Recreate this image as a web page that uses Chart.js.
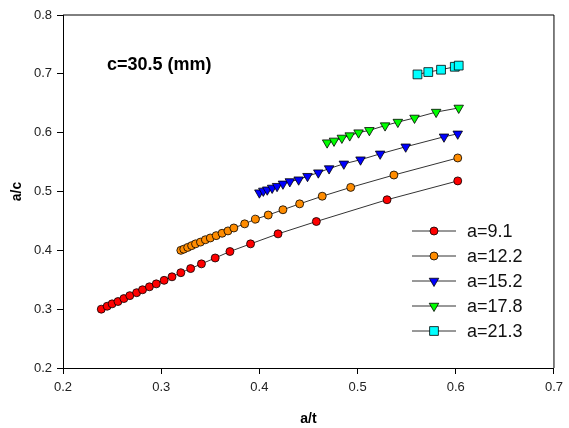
<!DOCTYPE html>
<html lang="en">
<head>
<meta charset="UTF-8">
<title>a/c vs a/t</title>
<script src="https://cdn.jsdelivr.net/npm/chart.js"></script>
<style>
  body { margin: 0; background: #fff; }
  .wrap { width: 569px; height: 428px; }
</style>
</head>
<body>
<div class="wrap"><canvas id="chart" width="569" height="428"></canvas></div>
<script>
// series names
const seriesNames = ['a=9.1', 'a=12.2', 'a=15.2', 'a=17.8', 'a=21.3'];

// a=9.1
const at91 = [0.239, 0.245, 0.250, 0.256, 0.262, 0.268, 0.275, 0.281, 0.288, 0.295, 0.303, 0.311, 0.320, 0.330, 0.341, 0.355, 0.370, 0.391, 0.419, 0.458, 0.530, 0.602];
const ac91 = [0.300, 0.305, 0.309, 0.313, 0.318, 0.323, 0.328, 0.333, 0.338, 0.343, 0.349, 0.355, 0.362, 0.369, 0.377, 0.387, 0.398, 0.411, 0.428, 0.449, 0.486, 0.518];

// a=12.2
const at122 = [0.320, 0.323, 0.327, 0.331, 0.335, 0.340, 0.345, 0.350, 0.356, 0.362, 0.368, 0.374, 0.385, 0.396, 0.409, 0.424, 0.441, 0.464, 0.493, 0.537, 0.602];
const ac122 = [0.400, 0.402, 0.405, 0.408, 0.411, 0.414, 0.418, 0.421, 0.425, 0.429, 0.433, 0.438, 0.445, 0.453, 0.460, 0.469, 0.479, 0.492, 0.507, 0.528, 0.557];

// a=15.2
const at152 = [0.400, 0.404, 0.408, 0.413, 0.418, 0.424, 0.431, 0.440, 0.449, 0.460, 0.471, 0.486, 0.503, 0.523, 0.549, 0.588, 0.602];
const ac152 = [0.498, 0.501, 0.503, 0.506, 0.509, 0.513, 0.517, 0.520, 0.526, 0.532, 0.539, 0.547, 0.554, 0.564, 0.576, 0.593, 0.598];

// a=17.8
const at178 = [0.469, 0.476, 0.484, 0.492, 0.501, 0.512, 0.528, 0.541, 0.558, 0.580, 0.603];
const ac178 = [0.583, 0.586, 0.591, 0.595, 0.600, 0.604, 0.612, 0.618, 0.625, 0.635, 0.642];

// a=21.3
const at213 = [0.561, 0.572, 0.585, 0.599, 0.603];
const ac213 = [0.699, 0.703, 0.707, 0.712, 0.714];

// axis ticks
const xTicks = [0.2, 0.3, 0.4, 0.5, 0.6, 0.7];
const yTicks = [0.2, 0.3, 0.4, 0.5, 0.6, 0.7, 0.8];

const FONT = "'Liberation Sans', Arial, sans-serif";

function toPoints(xs, ys) {
    return xs.map((x, i) => ({ x: x, y: ys[i] }));
}

const styles = [
    { color: '#ff0000', pointStyle: 'circle', radius: 4, rotation: 0 },
    { color: '#ff8c00', pointStyle: 'circle', radius: 4, rotation: 0 },
    { color: '#0000ff', pointStyle: 'triangle', radius: 5.5, rotation: 180 },
    { color: '#00ff00', pointStyle: 'triangle', radius: 5.5, rotation: 180 },
    { color: '#00ffff', pointStyle: 'rect', radius: 6.2, rotation: 0 }
];

const allX = [at91, at122, at152, at178, at213];
const allY = [ac91, ac122, ac152, ac178, ac213];

const datasets = seriesNames.map((name, i) => ({
    label: name,
    data: toPoints(allX[i], allY[i]),
    showLine: true,
    borderColor: '#333',
    borderWidth: 1,
    pointBackgroundColor: styles[i].color,
    pointBorderColor: '#000',
    pointBorderWidth: 0.8,
    pointStyle: styles[i].pointStyle,
    pointRadius: styles[i].radius,
    pointRotation: styles[i].rotation
}));

// box around the plot, note text and legend inside the plot
const boxAndLegend = {
    id: 'boxAndLegend',
    afterDraw(chart) {
        const ctx = chart.ctx;
        const a = chart.chartArea;
        ctx.save();
        ctx.strokeStyle = '#000';
        ctx.lineWidth = 1;
        ctx.beginPath();
        ctx.moveTo(a.left, a.top);
        ctx.lineTo(a.right, a.top);
        ctx.lineTo(a.right, a.bottom);
        ctx.stroke();

        ctx.fillStyle = '#000';
        ctx.font = 'bold 18px ' + FONT;
        ctx.textBaseline = 'middle';
        ctx.fillText('c=30.5 (mm)', 107, 65);

        ctx.font = '18px ' + FONT;
        seriesNames.forEach((name, i) => {
            const y = 231 + i * 25;
            ctx.strokeStyle = '#333';
            ctx.lineWidth = 1;
            ctx.beginPath();
            ctx.moveTo(412, y);
            ctx.lineTo(456, y);
            ctx.stroke();
            const st = styles[i];
            ctx.fillStyle = st.color;
            ctx.strokeStyle = '#000';
            ctx.lineWidth = 0.8;
            Chart.helpers.drawPoint(ctx, {
                pointStyle: st.pointStyle,
                radius: st.radius,
                rotation: st.rotation,
                borderWidth: 0.8
            }, 434, y);
            ctx.fillStyle = '#111';
            ctx.fillText(name, 467, y + 1);
        });
        ctx.restore();
    }
};

new Chart(document.getElementById('chart'), {
    type: 'scatter',
    data: { datasets: datasets },
    options: {
        responsive: false,
        animation: false,
        layout: { padding: { top: 15, right: 8, left: 0, bottom: 0 } },
        plugins: {
            legend: { display: false },
            tooltip: { enabled: false }
        },
        scales: {
            x: {
                type: 'linear',
                min: 0.2,
                max: 0.7,
                afterBuildTicks: s => { s.ticks = xTicks.map(v => ({ value: v })); },
                afterFit: s => { s.height = 60; },
                border: { color: '#000', width: 1 },
                grid: { drawOnChartArea: false, drawTicks: true, tickLength: 6, color: '#000' },
                ticks: {
                    color: '#222',
                    padding: 6,
                    font: { family: FONT, size: 13 },
                    callback: v => v.toFixed(1)
                },
                title: {
                    display: true,
                    text: 'a/t',
                    color: '#000',
                    font: { family: FONT, size: 14, weight: 'bold' },
                    padding: { top: 0, bottom: 0 }
                }
            },
            y: {
                type: 'linear',
                min: 0.2,
                max: 0.8,
                afterBuildTicks: s => { s.ticks = yTicks.map(v => ({ value: v })); },
                afterFit: s => { s.width = 63; },
                border: { color: '#000', width: 1 },
                grid: { drawOnChartArea: false, drawTicks: true, tickLength: 6, color: '#000' },
                ticks: {
                    color: '#222',
                    padding: 5,
                    font: { family: FONT, size: 13 },
                    callback: v => v.toFixed(1)
                },
                title: {
                    display: true,
                    text: 'a/c',
                    color: '#000',
                    font: { family: FONT, size: 14, weight: 'bold' },
                    padding: { top: 9, bottom: 0 }
                }
            }
        }
    },
    plugins: [boxAndLegend]
});
</script>
</body>
</html>
